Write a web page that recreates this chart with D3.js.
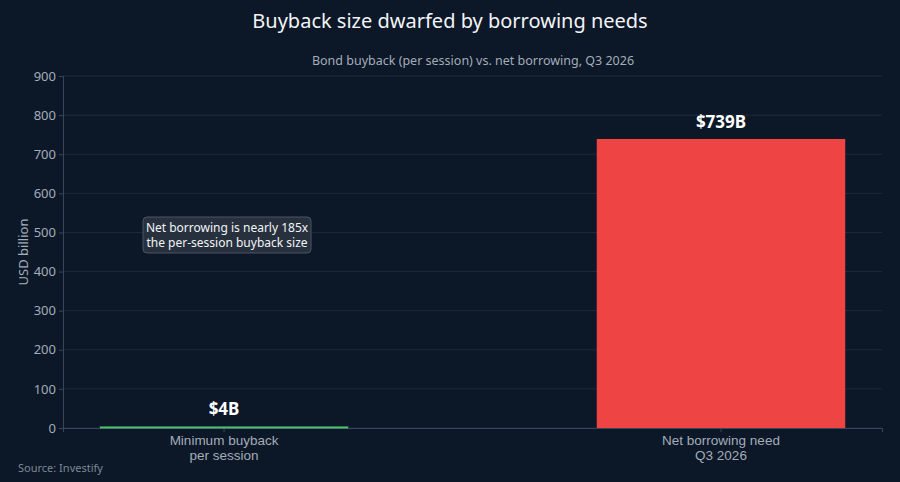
<!DOCTYPE html>
<html><head><meta charset="utf-8">
<script src="https://cdn.jsdelivr.net/npm/d3@7"></script>
<style>body{margin:0;background:#0c1727;}svg{display:block;font-family:"Noto Sans",sans-serif;}</style>
</head><body><svg id="c" width="900" height="482"></svg>
<script>
const categories = [["Minimum buyback","per session"],["Net borrowing need","Q3 2026"]];
const values = [4, 739];
const valueLabels = ["$4B","$739B"];
const colors = ["#4cc16e","#ef4444"];
const yTicks = [0,100,200,300,400,500,600,700,800,900];

const svg = d3.select("#c");
svg.append("rect").attr("width",900).attr("height",482).attr("fill","#0c1727");
const m = {l:63, r:882, t:76, b:428};
const x = d3.scaleBand().domain(d3.range(categories.length)).range([m.l,m.r]).paddingInner(0.5).paddingOuter(0.074);
const y = d3.scaleLinear().domain([0,900]).range([m.b,m.t]);

svg.append("g").selectAll("line").data(yTicks).join("line")
  .attr("x1",m.l).attr("x2",m.r).attr("y1",d=>y(d)).attr("y2",d=>y(d))
  .attr("stroke","#1f2b3b").attr("stroke-width",1);

const ya = svg.append("g").attr("transform",`translate(${m.l},0)`).call(d3.axisLeft(y).tickValues(yTicks).tickSize(4));
ya.select(".domain").attr("stroke","#3a4657");
ya.selectAll(".tick line").attr("stroke","#3a4657");
ya.selectAll("text").attr("fill","#a3adb9").attr("font-size",13).attr("font-family","Noto Sans");

const xa = svg.append("g").attr("transform",`translate(0,${m.b})`).call(d3.axisBottom(x).tickSize(4).tickFormat(""));
xa.select(".domain").attr("stroke","#3a4657");
xa.selectAll(".tick line").attr("stroke","#3a4657");
xa.selectAll(".tick").each(function(d){
  const t=d3.select(this).append("text").attr("fill","#a3adb9").attr("font-size",13.5).attr("text-anchor","middle");
  categories[d].forEach((s,i)=>t.append("tspan").attr("x",0).attr("y",17+i*15).text(s));
});

svg.selectAll(".bar").data(values).join("rect")
  .attr("x",(d,i)=>x(i)).attr("width",x.bandwidth())
  .attr("y",d=>y(d)).attr("height",d=>Math.max(2,y(0)-y(d)))
  .attr("fill",(d,i)=>colors[i]);

svg.selectAll(".vl").data(values).join("text")
  .attr("x",(d,i)=>x(i)+x.bandwidth()/2).attr("y",d=>y(d)-11)
  .attr("text-anchor","middle").attr("fill","#fff").attr("font-size",17).attr("font-weight","bold")
  .text((d,i)=>valueLabels[i]);

svg.append("text").attr("x",450).attr("y",28).attr("text-anchor","middle").attr("fill","#f2f4f7").attr("font-size",20).text("Buyback size dwarfed by borrowing needs");
svg.append("text").attr("x",473).attr("y",65).attr("text-anchor","middle").attr("fill","#a3adb9").attr("font-size",12.5).text("Bond buyback (per session) vs. net borrowing, Q3 2026");
svg.append("text").attr("transform",`translate(28,${(m.t+m.b)/2}) rotate(-90)`).attr("text-anchor","middle").attr("fill","#a3adb9").attr("font-size",13).text("USD billion");
svg.append("text").attr("x",18).attr("y",472).attr("fill","#7d8896").attr("font-size",11).text("Source: Investify");

const ax = x(0)+x.bandwidth()/2+3, ay=235;
svg.append("rect").attr("x",ax-84).attr("y",ay-18).attr("width",168).attr("height",36).attr("rx",4)
  .attr("fill","#27313e").attr("stroke","#4a5566");
const at = svg.append("text").attr("text-anchor","middle").attr("fill","#f2f4f7").attr("font-size",12);
at.append("tspan").attr("x",ax).attr("y",ay-3).text("Net borrowing is nearly 185x");
at.append("tspan").attr("x",ax).attr("y",ay+12).text("the per-session buyback size");
</script></body></html>
